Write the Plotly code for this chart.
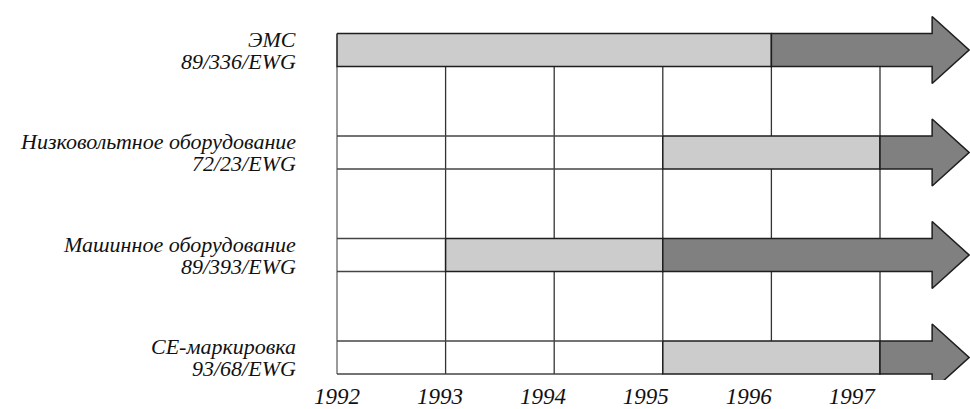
import plotly.graph_objects as go

# ---- data ----
row_titles = ["ЭМС", "Низковольтное оборудование", "Машинное оборудование", "CE-маркировка"]
row_codes = ["89/336/EWG", "72/23/EWG", "89/393/EWG", "93/68/EWG"]
timeline_start = [1992, 1992, 1992, 1992]
light_start = [1992, 1995, 1993, 1995]
dark_start = [1996, 1997, 1995, 1997]
years = [1992, 1993, 1994, 1995, 1996, 1997]
year_labels = ["1992", "1993", "1994", "1995", "1996", "1997"]

# ---- style / geometry ----
W, H = 970, 409
PX_PER_YEAR = 108.6
X0_PX = 337
ROW_PX = 102.5
ROW0_PX = 50
MB = 29
PLOT_H = H - MB
BAR_HALF = 16.5 / ROW_PX
HEAD_HALF = 33.5 / ROW_PX
BODY_END = 1997.48
TIP = 1997.82
LIGHT = "#cccccc"
DARK = "#808080"
EDGE = "#1e1e1e"
FONT = "Liberation Serif"

xr = [1992 - X0_PX / PX_PER_YEAR, 1992 + (W - X0_PX) / PX_PER_YEAR]
yr = [(PLOT_H - ROW0_PX) / ROW_PX, -ROW0_PX / ROW_PX]

fig = go.Figure()

# vertical grid lines
n = len(row_titles)
for i, yv in enumerate(years):
    fig.add_trace(go.Scatter(
        x=[yv, yv], y=[0 + BAR_HALF, (n - 1) + BAR_HALF], mode="lines",
        line=dict(color="#9a9a9a" if i == 0 else "#333333", width=2 if i == 0 else 1.3),
        hoverinfo="skip", showlegend=False))

for r in range(n):
    yt, yb = r - BAR_HALF, r + BAR_HALF
    # white (outline only) segment
    if light_start[r] > timeline_start[r]:
        fig.add_trace(go.Scatter(
            x=[timeline_start[r], light_start[r]], y=[yt, yt], mode="lines",
            line=dict(color="#444444", width=1.5), hoverinfo="skip", showlegend=False))
        fig.add_trace(go.Scatter(
            x=[timeline_start[r], light_start[r]], y=[yb, yb], mode="lines",
            line=dict(color="#444444", width=1.5), hoverinfo="skip", showlegend=False))
    # light segment
    a, b = light_start[r], dark_start[r]
    fig.add_trace(go.Scatter(
        x=[a, b, b, a, a], y=[yt, yt, yb, yb, yt], mode="lines", fill="toself",
        fillcolor=LIGHT, line=dict(color=EDGE, width=1.5),
        hoverinfo="skip", showlegend=False))
    # dark arrow
    d = dark_start[r]
    fig.add_trace(go.Scatter(
        x=[d, BODY_END, BODY_END, TIP, BODY_END, BODY_END, d, d],
        y=[yt, yt, r - HEAD_HALF, r, r + HEAD_HALF, yb, yb, yt],
        mode="lines", fill="toself", fillcolor=DARK,
        line=dict(color=EDGE, width=1.5), hoverinfo="skip", showlegend=False))

# row labels
for r in range(n):
    for txt, shift in ((row_titles[r], 11), (row_codes[r], -11)):
        fig.add_annotation(
            xref="paper", yref="y", x=298 / W, y=r, yshift=shift,
            xanchor="right", yanchor="middle", showarrow=False, text=txt,
            font=dict(family=FONT, size=22, color="#111111", style="italic"))

# year tick labels (labels drift slightly left of the grid in the original)
label_pos = [y - 0.052 * (y - years[0]) for y in years]

fig.update_layout(
    width=W, height=H, margin=dict(l=0, r=0, t=0, b=MB),
    paper_bgcolor="white", plot_bgcolor="white",
    xaxis=dict(range=xr, showgrid=False, zeroline=False, showline=False,
               tickvals=label_pos, ticktext=year_labels, ticks="",
               tickfont=dict(family=FONT, size=23, color="#111111", style="italic"),
               fixedrange=True),
    yaxis=dict(range=yr, showgrid=False, zeroline=False, showline=False,
               showticklabels=False, fixedrange=True),
)

fig.write_html("out.html", post_script="document.body.style.margin='0';",
               config={"displayModeBar": False})
